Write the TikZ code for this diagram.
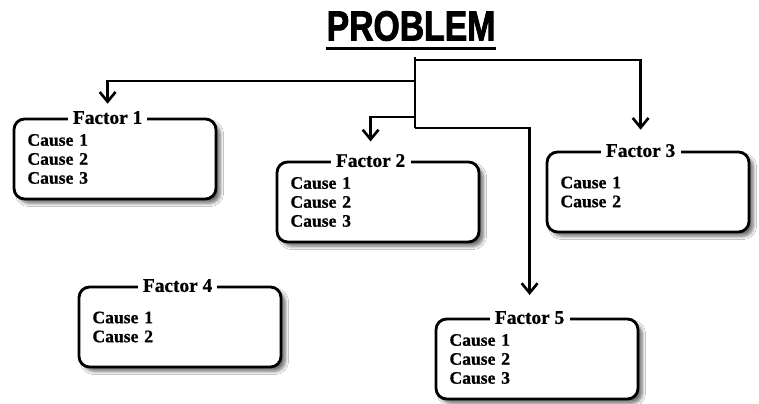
\documentclass[tikz,border=0pt]{standalone}
\usepackage{fontspec}
\setmainfont{Liberation Serif}[BoldFeatures={FakeBold=0.8}]
\newfontfamily\titlefont[FakeStretch=0.8, BoldFeatures={FakeBold=2}]{Liberation Sans}
\usetikzlibrary{arrows.meta,positioning,shadows.blur,calc}

\begin{document}
\begin{tikzpicture}[
    x=0.02cm, y=-0.02cm,
    factor/.style={rectangle, rounded corners=6pt, draw, line width=1.6pt,
                   fill=white, minimum width=4.04cm, minimum height=1.6cm,
                   text width=3.5cm, align=left, inner xsep=0.27cm,
                   font=\fontsize{10}{10.8}\selectfont\bfseries,
                   blur shadow={shadow xshift=2.5pt, shadow yshift=-2.5pt,
                                shadow blur steps=6, shadow opacity=55}},
    flabel/.style={fill=white, inner xsep=3pt, inner ysep=1pt,
                   font=\fontsize{11}{12}\selectfont\bfseries},
    arr/.style={-{Straight Barb[length=5.5pt, width=9pt, line width=1.5pt]},
                line width=1.6pt},
    branch/.style={line width=1.6pt}
  ]
  \useasboundingbox (0,0) rectangle (759,404);
  \fill[white] (0,0) rectangle (759,404);

  % ---- Title ----
  \node[font=\titlefont\fontsize{24}{24}\selectfont\bfseries, inner sep=0pt]
    (title) at (411,26) {PROBLEM};
  \draw[line width=1.8pt] ([yshift=-4pt]title.south west) --
    ([yshift=-4pt]title.south east);

  % ---- Factor boxes ----
  \node[factor] (b1) at (115,159) {Cause 1\\Cause 2\\Cause 3};
  \node[factor] (b2) at (378,202) {Cause 1\\Cause 2\\Cause 3};
  \node[factor] (b3) at (648,192) {Cause 1\\Cause 2};
  \node[factor] (b4) at (180,327) {Cause 1\\Cause 2};
  \node[factor] (b5) at (537,359) {Cause 1\\Cause 2\\Cause 3};

  % ---- Labels sitting on the top border ----
  \node[flabel] (f1) at ($(b1.north west)+(95,0)$) {Factor 1};
  \node[flabel] (f2) at ($(b2.north west)+(95,0)$) {Factor 2};
  \node[flabel] (f3) at ($(b3.north west)+(95,0)$) {Factor 3};
  \node[flabel] (f4) at ($(b4.north west)+(100,0)$) {Factor 4};
  \node[flabel] (f5) at ($(b5.north west)+(95,0)$) {Factor 5};

  % ---- Trunk and branches ----
  \coordinate (top) at (415,57);
  \coordinate (j0) at (415,60);
  \coordinate (j1) at (415,81);
  \coordinate (j2) at (415,117);
  \coordinate (bot) at (415,128);
  \draw[branch] (top) -- (bot);
  \draw[arr, shorten >=7pt] (j0) -| (f3);
  \draw[arr, shorten >=3pt] (j1) -| (f1);
  \draw[arr, shorten >=6pt] (j2) -| (f2);
  \draw[arr, shorten >=8pt] (bot) -| (f5);

\end{tikzpicture}
\end{document}
